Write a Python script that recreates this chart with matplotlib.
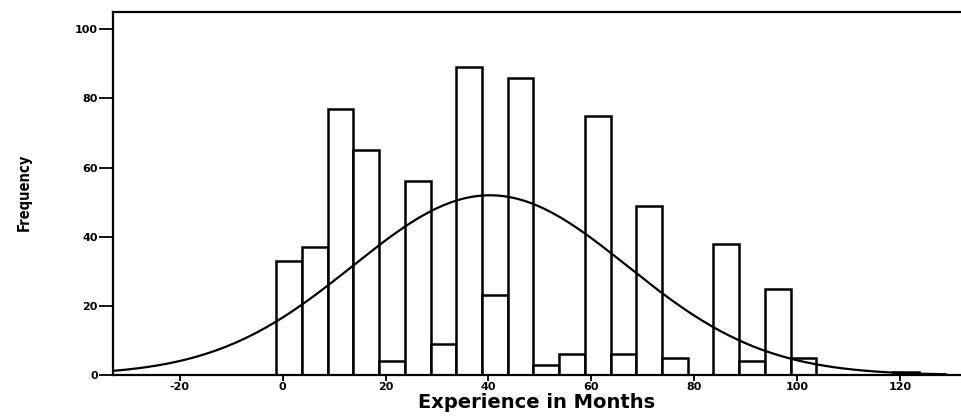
import numpy as np
import matplotlib
matplotlib.use("Agg")
import matplotlib.pyplot as plt

# Histogram data (bin width 5 months, first bin starts at -1.25)
bin_start = -1.25
bin_width = 5.0
counts = [33, 37, 77, 65, 4, 56, 9, 89, 23, 86, 3, 6, 75, 6, 49, 5, 0, 38, 4, 25, 5, 0, 0, 0, 1]

# Normal curve parameters
curve_mean = 40.3
curve_sd = 26.7

x_ticks = [-20, 0, 20, 40, 60, 80, 100, 120]
y_ticks = [0, 20, 40, 60, 80, 100]
x_label = "Experience in Months"
y_label = "Frequency"

fig = plt.figure(figsize=(9.61, 4.16), dpi=100)
ax = fig.add_axes([113 / 961, 41 / 416, 1 - 113 / 961, (375 - 11.7) / 416])

edges = bin_start + bin_width * np.arange(len(counts))
ax.bar(edges, counts, width=bin_width, align="edge", facecolor="white",
       edgecolor="black", linewidth=1.8, zorder=2)

n_total = sum(counts)
xs = np.linspace(-33, 129, 600)
ys = n_total * bin_width / (curve_sd * np.sqrt(2 * np.pi)) * np.exp(-0.5 * ((xs - curve_mean) / curve_sd) ** 2)
ax.plot(xs, ys, color="black", linewidth=1.6, zorder=3)

ax.set_xlim(-33, 131.9)
ax.set_ylim(0, 105.1)
ax.set_xticks(x_ticks)
ax.set_yticks(y_ticks)
ax.set_xticklabels([str(v) for v in x_ticks], fontsize=8, fontweight="bold", family="DejaVu Sans")
ax.set_yticklabels([str(v) for v in y_ticks], fontsize=8, fontweight="bold", family="DejaVu Sans")
ax.tick_params(axis="y", direction="out", length=10, width=1.3, pad=1)
ax.tick_params(axis="x", direction="out", length=4, width=1.3, pad=1)

for s in ["left", "bottom", "top"]:
    ax.spines[s].set_linewidth(1.6)
ax.spines["right"].set_visible(False)

ax.set_xlabel(x_label, fontsize=14, fontweight="bold", family="DejaVu Sans", labelpad=1)
ax.set_ylabel(y_label, fontsize=10.5, fontweight="bold", family="DejaVu Sans",
              fontstretch="condensed")
ax.yaxis.set_label_coords(-0.0955, 0.504)

fig.savefig("out.png", dpi=100)
